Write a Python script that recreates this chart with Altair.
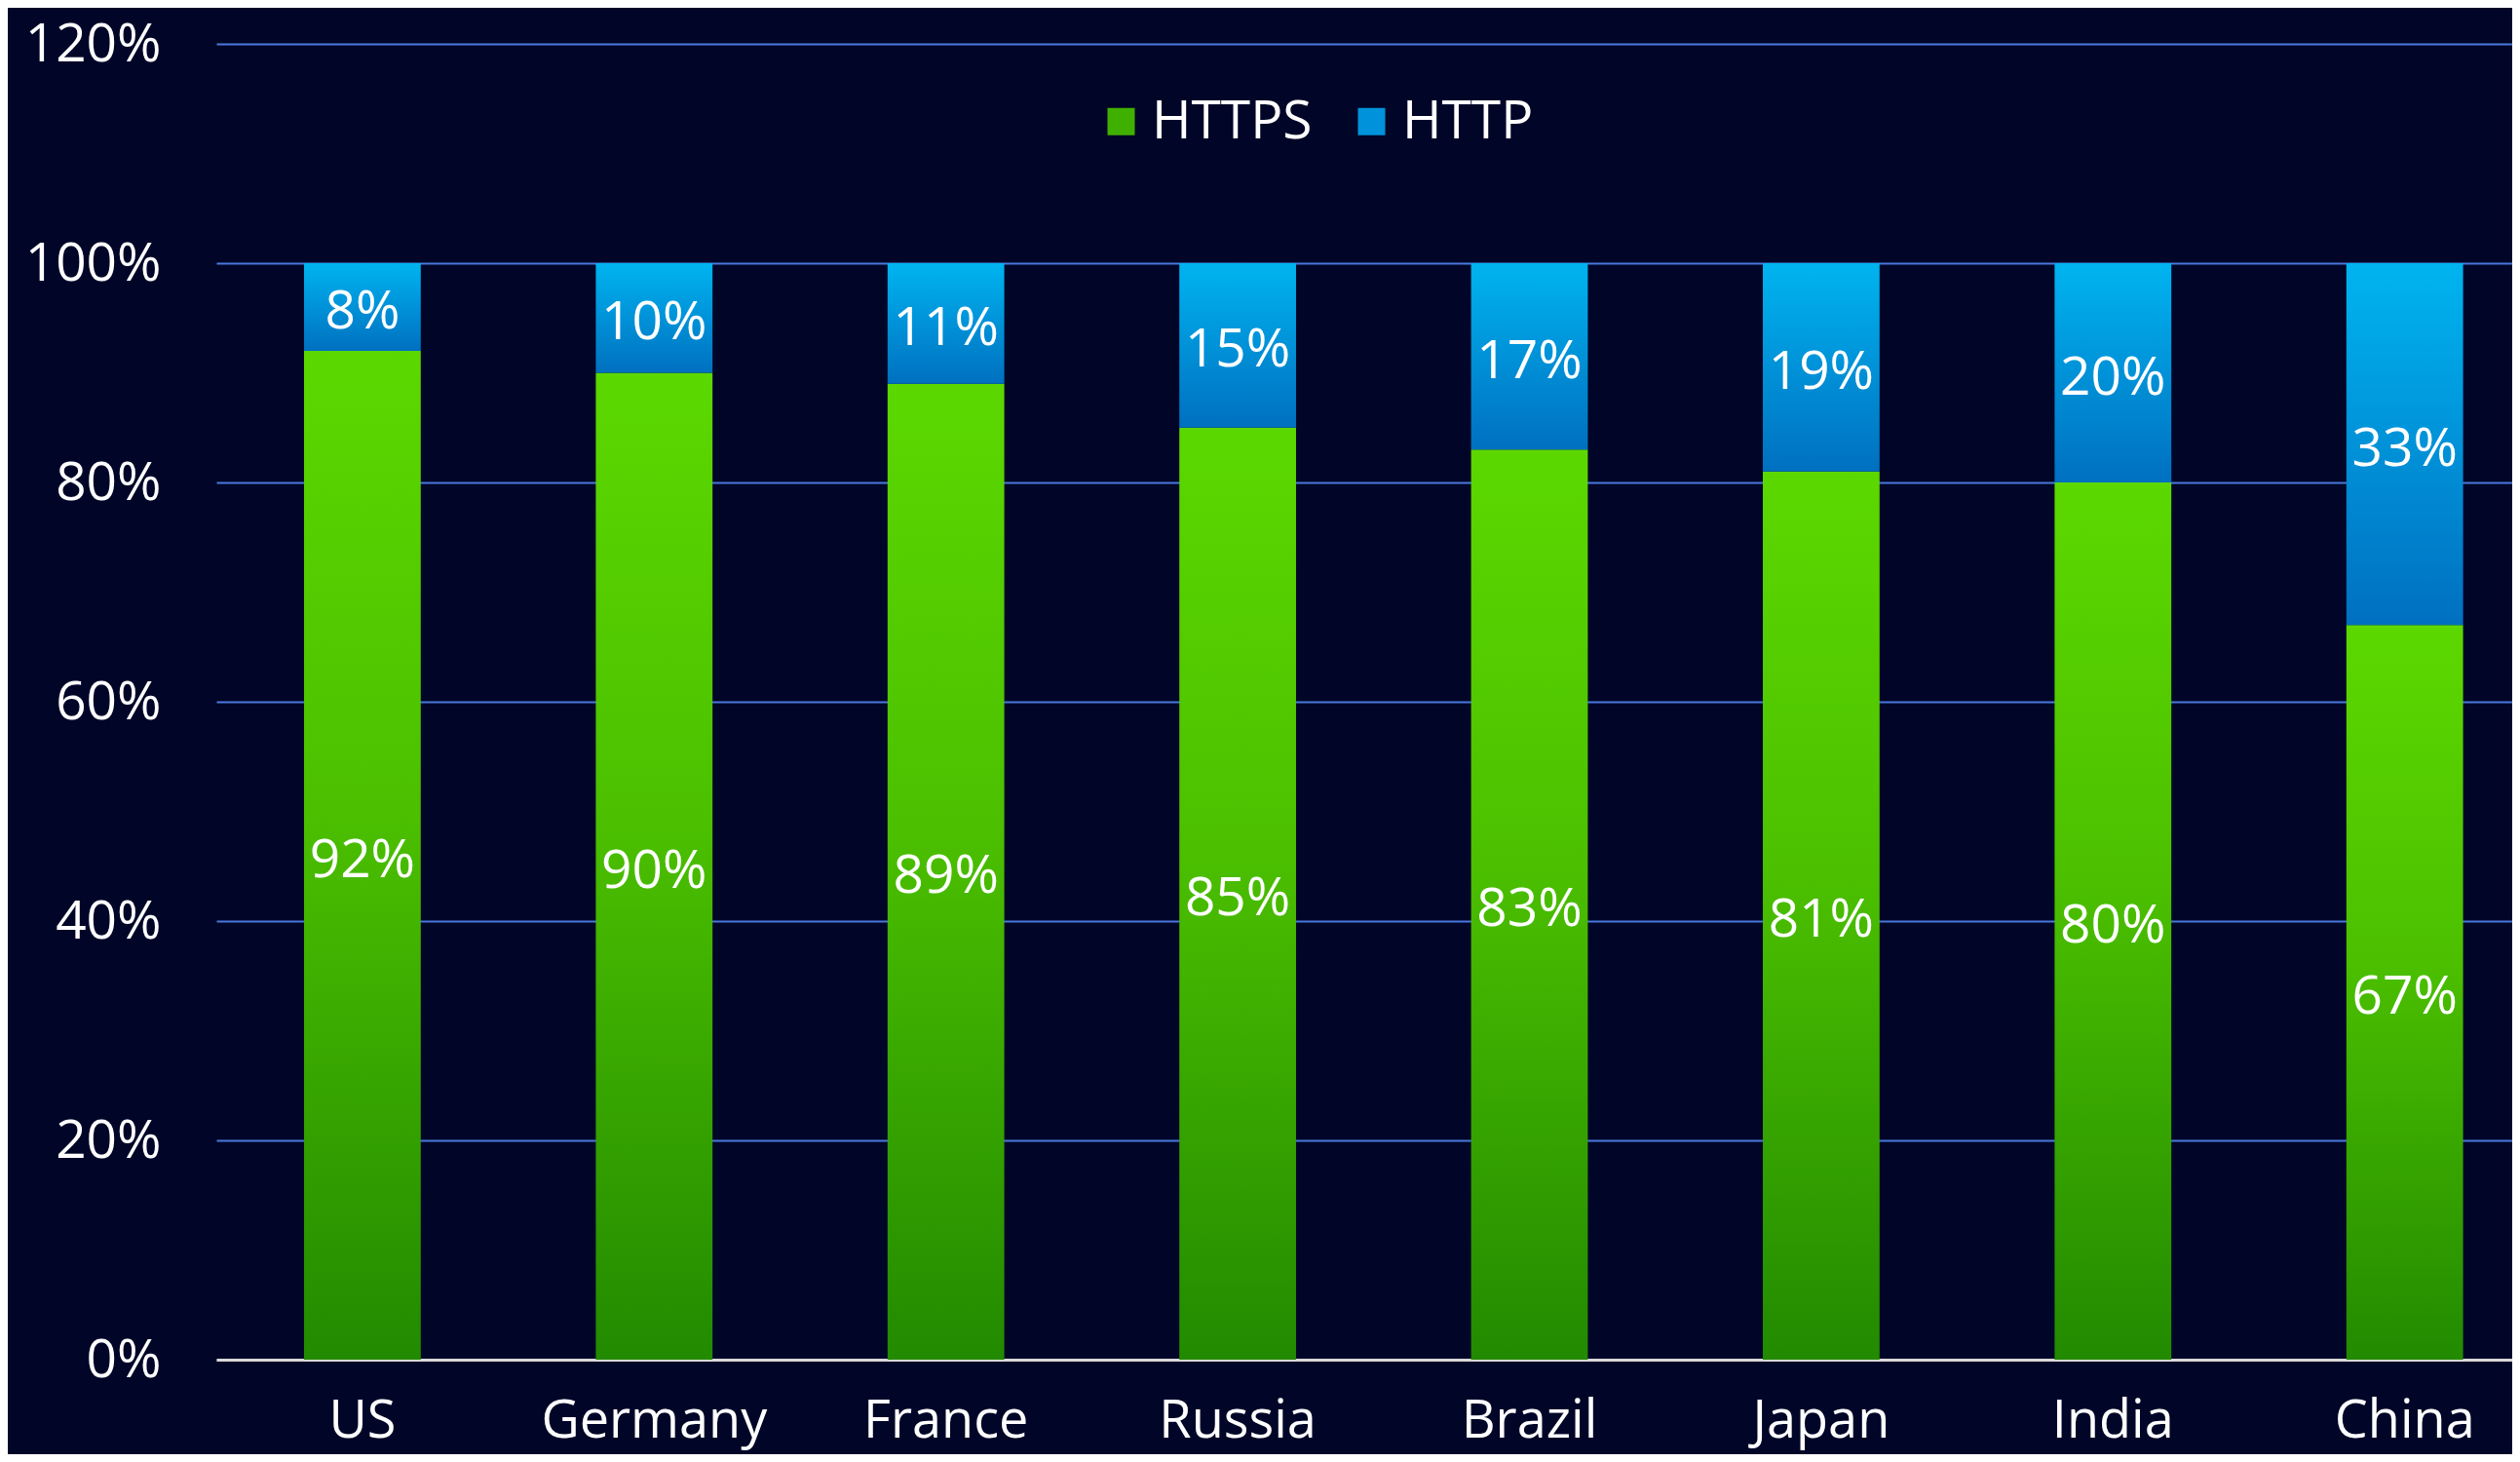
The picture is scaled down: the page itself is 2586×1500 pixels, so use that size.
import altair as alt
import pandas as pd

countries = ["US", "Germany", "France", "Russia", "Brazil", "Japan", "India", "China"]
https_share = [92, 90, 89, 85, 83, 81, 80, 67]
http_share = [8, 10, 11, 15, 17, 19, 20, 33]
series_names = ["HTTPS", "HTTP"]
y_ticks = [0, 20, 40, 60, 80, 100, 120]

rows = []
for c, s, h in zip(countries, https_share, http_share):
    rows.append({"country": c, "series": "HTTPS", "start": 0, "end": s, "value": s, "label": f"{s}%"})
    rows.append({"country": c, "series": "HTTP", "start": s, "end": s + h, "value": h, "label": f"{h}%"})
df = pd.DataFrame(rows)
df["mid"] = (df["start"] + df["end"]) / 2

FONT = "Open Sans"
BG = "#010628"

green_grad = alt.Gradient(
    gradient="linear", x1=0, y1=0, x2=0, y2=1,
    stops=[alt.GradientStop(offset=0, color="#5CD800"),
           alt.GradientStop(offset=0.45, color="#4CC000"),
           alt.GradientStop(offset=1, color="#228A00")],
)
blue_grad = alt.Gradient(
    gradient="linear", x1=0, y1=0, x2=0, y2=1,
    stops=[alt.GradientStop(offset=0, color="#00B4F0"),
           alt.GradientStop(offset=1, color="#0070C0")],
)

x_enc = alt.X(
    "country:N", sort=countries, title=None,
    scale=alt.Scale(paddingInner=0.6, paddingOuter=0.2345, align=0.641),
    axis=alt.Axis(labelAngle=0, labelFontSize=54, labelColor="white", labelFont=FONT,
                  labelPadding=36, labelLimit=500, ticks=False, domainColor="#D9D9D9",
                  domainWidth=3, grid=False),
)
y_scale = alt.Scale(domain=[0, 120], nice=False)
y_axis = alt.Axis(values=y_ticks, labelExpr="datum.value + '%'", labelFontSize=55,
                  labelColor="white", labelFont=FONT, labelPadding=57, ticks=False,
                  domain=False, grid=True, gridColor="#4A78DC", gridWidth=2, title=None)

base = alt.Chart(df)

green = base.transform_filter(alt.datum.series == "HTTPS").mark_bar(color=green_grad).encode(
    x=x_enc,
    y=alt.Y("start:Q", scale=y_scale, axis=y_axis),
    y2="end:Q",
)
blue = base.transform_filter(alt.datum.series == "HTTP").mark_bar(color=blue_grad).encode(
    x=x_enc,
    y=alt.Y("start:Q", scale=y_scale),
    y2="end:Q",
)
labels = base.mark_text(color="white", fontSize=55, font=FONT, baseline="middle", dy=5).encode(
    x=alt.X("country:N", sort=countries),
    y=alt.Y("mid:Q", scale=y_scale),
    text="label:N",
)
legend_layer = base.mark_square(opacity=0).encode(
    x=alt.X("country:N", sort=countries),
    y=alt.Y("start:Q", scale=y_scale),
    color=alt.Color(
        "series:N",
        scale=alt.Scale(domain=series_names, range=["#40B000", "#0092DA"]),
        legend=alt.Legend(
            title=None, orient="none", legendX=901, legendY=52, direction="horizontal",
            symbolType="square", symbolSize=784, symbolOpacity=1, symbolStrokeWidth=0,
            labelFontSize=55, labelColor="white", labelFont=FONT, labelOffset=4,
            columnPadding=33, labelLimit=400,
        ),
    ),
)

chart = alt.layer(green, blue, labels, legend_layer).properties(
    width=2356,
    height=1350,
    autosize=alt.AutoSizeParams(type="none"),
    padding={"left": 214, "top": 37, "right": 0, "bottom": 97},
    background=BG,
).configure_view(stroke=None)

chart.save("out.html", embed_options={"renderer": "svg", "actions": False})
